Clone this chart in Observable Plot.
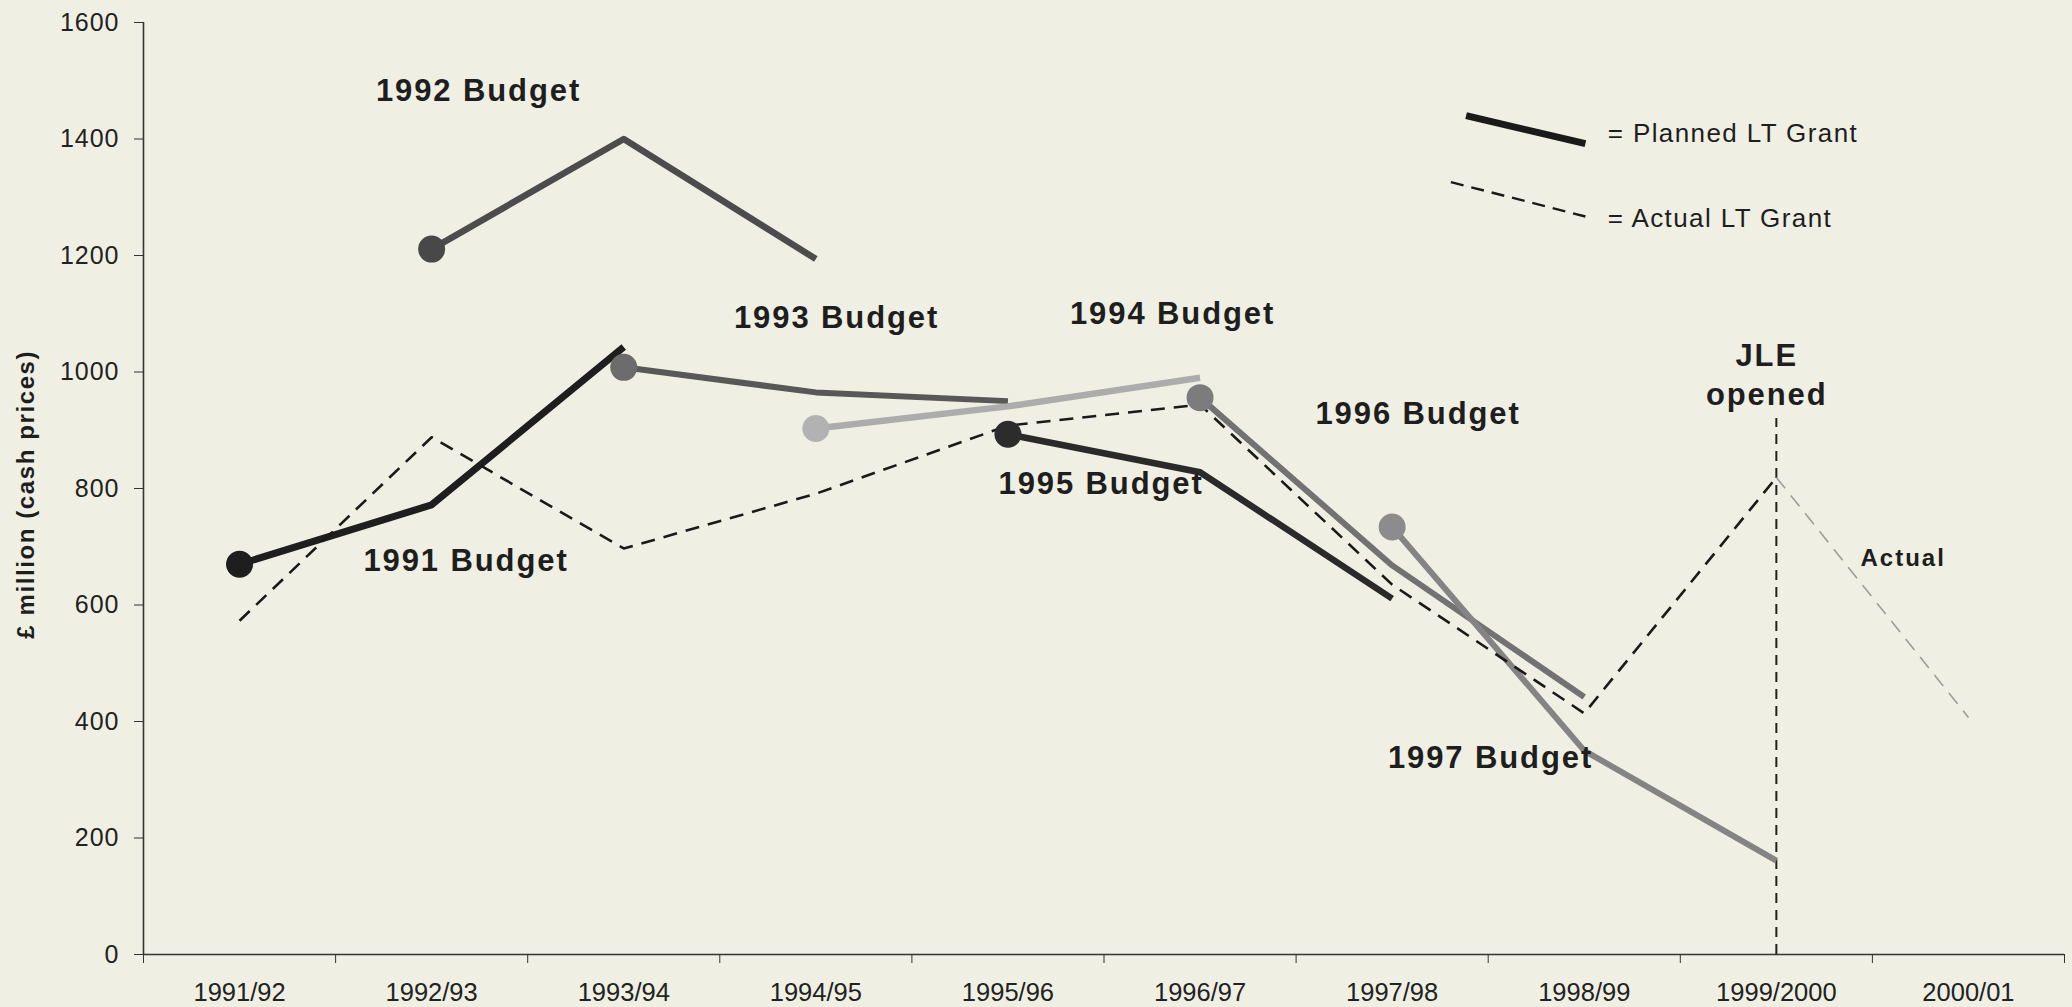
<!DOCTYPE html>
<html>
<head>
<meta charset="utf-8">
<script src="https://cdn.jsdelivr.net/npm/d3@7"></script>
<script src="https://cdn.jsdelivr.net/npm/@observablehq/plot@0.6"></script>
<style>
  html, body { margin: 0; padding: 0; background: #eff0e3; }
  svg { display: block; }
</style>
</head>
<body>
<div id="chart"></div>
<script>
// ---- data ----
const years = ["1991/92","1992/93","1993/94","1994/95","1995/96","1996/97","1997/98","1998/99","1999/2000","2000/01"];
const yTicks = [0, 200, 400, 600, 800, 1000, 1200, 1400, 1600];

const budgetNames = ["1991 Budget","1992 Budget","1993 Budget","1994 Budget","1995 Budget","1996 Budget","1997 Budget"];
const budgetStart = ["1991/92","1992/93","1993/94","1994/95","1995/96","1996/97","1997/98"];
const budget1991 = [670, 772, 1043];
const budget1992 = [1211, 1400, 1194];
const budget1993 = [1008, 965, 950];
const budget1994 = [903, 941, 990];
const budget1995 = [893, 828, 611];
const budget1996 = [956, 668, 442];
const budget1997 = [734, 350, 161];
const budgetValues = [budget1991, budget1992, budget1993, budget1994, budget1995, budget1996, budget1997];

const actualYears = ["1991/92","1992/93","1993/94","1994/95","1995/96","1996/97","1997/98","1998/99","1999/2000"];
const actualValues = [573, 888, 697, 791, 908, 944, 635, 414, 819];
const actualLaterYears = ["1999/2000","2000/01"];
const actualLaterValues = [819, 407];

const jleYear = "1999/2000";
const jleTop = 920;

// annotation labels (x as fractional year index, y in £ million)
const labelText = ["1992 Budget","1993 Budget","1994 Budget","1995 Budget","1996 Budget","1991 Budget","1997 Budget"];
const labelX = [1.244, 3.108, 4.857, 4.485, 6.135, 1.179, 6.512];
const labelY = [1483, 1093, 1099, 807, 927, 675, 338];
const jleText = ["JLE", "opened"];
const jleTextX = [7.95, 7.95];
const jleTextY = [1027, 960];
const actualNote = "Actual";
const actualNoteX = 8.66, actualNoteY = 680;
const yTitle = "£ million (cash prices)";

// legend
const legendText = ["= Planned LT Grant", "= Actual LT Grant"];
const legendX1 = [6.385, 6.306], legendY1 = [1440, 1326];
const legendX2 = [7.006, 7.006], legendY2 = [1392, 1267];
const legendTextX = [7.122, 7.122], legendTextY = [1409, 1263];

// ---- styles ----
const lineColors = ["#1e1e1e","#4c4c4c","#585858","#acacac","#2a2a2a","#727272","#848484"];
const dotColors  = ["#1e1e1e","#484848","#6c6c6c","#b2b2b2","#2c2c2c","#7c7c7c","#8c8c8c"];
const lineWidths = [7, 6.5, 6, 6.5, 6.5, 6, 6];
const ink = "#1e1e1e";
const font = "'Liberation Sans', Arial, sans-serif";

const idx = y => years.indexOf(y);

const marks = [];

// axes
marks.push(Plot.ruleX([-0.5], {stroke: "#333", strokeWidth: 1.6}));
marks.push(Plot.ruleY([0], {stroke: "#333", strokeWidth: 1.6}));
marks.push(Plot.axisY({ticks: yTicks, tickSize: 9, tickPadding: 15, tickFormat: d => String(d), fontSize: 25, label: null, stroke: "#333", fill: "#222"}));
marks.push(Plot.axisX({ticks: d3.range(-0.5, years.length, 1), tickSize: 9, tickFormat: () => "", label: null, stroke: "#333"}));
marks.push(Plot.axisX({ticks: d3.range(years.length), tickSize: 0, tickPadding: 28, tickFormat: i => years[i], fontSize: 25.5, label: null, fill: "#222"}));

// y axis title
marks.push(Plot.text([yTitle], {x: -0.5, y: 790, dx: -117, rotate: -90, textAnchor: "middle", lineAnchor: "middle", fontSize: 24, fontWeight: "bold", fill: ink}));

// JLE vertical dashed line
marks.push(Plot.ruleX([idx(jleYear)], {y1: 0, y2: jleTop, stroke: "#222", strokeWidth: 2, strokeDasharray: "10,7"}));

// budget lines
budgetValues.forEach((vals, k) => {
  const s = idx(budgetStart[k]);
  const data = vals.map((v, i) => ({x: s + i, y: v, name: budgetNames[k]}));
  marks.push(Plot.line(data, {x: "x", y: "y", stroke: lineColors[k], strokeWidth: lineWidths[k], strokeLinecap: "butt", strokeLinejoin: "round"}));
});

// actual lines
const actualData = actualYears.map((y, i) => ({x: idx(y), y: actualValues[i]}));
marks.push(Plot.line(actualData, {x: "x", y: "y", stroke: "#1a1a1a", strokeWidth: 2.6, strokeDasharray: "14,9", strokeLinecap: "butt"}));
const laterData = actualLaterYears.map((y, i) => ({x: idx(y), y: actualLaterValues[i]}));
marks.push(Plot.line(laterData, {x: "x", y: "y", stroke: "#9c9c9c", strokeWidth: 1.6, strokeDasharray: "14,9", strokeLinecap: "butt"}));

// budget start dots
budgetValues.forEach((vals, k) => {
  const s = idx(budgetStart[k]);
  marks.push(Plot.dot([{x: s, y: vals[0]}], {x: "x", y: "y", r: 13.5, fill: dotColors[k], stroke: "none"}));
});

// labels
const labelData = labelText.map((t, i) => ({t, x: labelX[i], y: labelY[i]}));
marks.push(Plot.text(labelData, {x: "x", y: "y", text: "t", fontSize: 31, fontWeight: "bold", fill: ink, textAnchor: "middle", lineAnchor: "middle"}));
const jleData = jleText.map((t, i) => ({t, x: jleTextX[i], y: jleTextY[i]}));
marks.push(Plot.text(jleData, {x: "x", y: "y", text: "t", fontSize: 31, fontWeight: "bold", fill: ink, textAnchor: "middle", lineAnchor: "middle"}));
marks.push(Plot.text([actualNote], {x: actualNoteX, y: actualNoteY, fontSize: 24, fontWeight: "bold", fill: ink, textAnchor: "middle", lineAnchor: "middle"}));

// legend
const legendLines = [0, 1].map(i => ({x1: legendX1[i], y1: legendY1[i], x2: legendX2[i], y2: legendY2[i]}));
marks.push(Plot.link([legendLines[0]], {x1: "x1", y1: "y1", x2: "x2", y2: "y2", stroke: "#1a1a1a", strokeWidth: 7, strokeLinecap: "butt"}));
marks.push(Plot.link([legendLines[1]], {x1: "x1", y1: "y1", x2: "x2", y2: "y2", stroke: "#1a1a1a", strokeWidth: 2.4, strokeDasharray: "13,8", strokeLinecap: "butt"}));
const legendData = legendText.map((t, i) => ({t, x: legendTextX[i], y: legendTextY[i]}));
marks.push(Plot.text(legendData, {x: "x", y: "y", text: "t", fontSize: 26, fill: ink, textAnchor: "start", lineAnchor: "middle"}));

const chart = Plot.plot({
  width: 2072,
  height: 1007,
  marginLeft: 143,
  marginRight: 8,
  marginTop: 22,
  marginBottom: 53,
  x: {type: "linear", domain: [-0.5, years.length - 0.5], axis: null},
  y: {domain: [0, 1600], axis: null},
  style: {background: "#eff0e3", fontFamily: font, color: ink},
  marks
});

// letter spacing to match the wide lettering of the original
const spacing = new Map();
[...labelText, ...jleText].forEach(t => spacing.set(t, "1.9px"));
spacing.set(actualNote, "2px");
spacing.set(yTitle, "1.6px");
legendText.forEach(t => spacing.set(t, "1.4px"));
yTicks.forEach(t => spacing.set(String(t), "1px"));
d3.select(chart).selectAll("text").each(function() {
  const ls = spacing.get(this.textContent);
  if (ls) this.style.letterSpacing = ls;
});

document.getElementById("chart").appendChild(chart);
</script>
</body>
</html>
